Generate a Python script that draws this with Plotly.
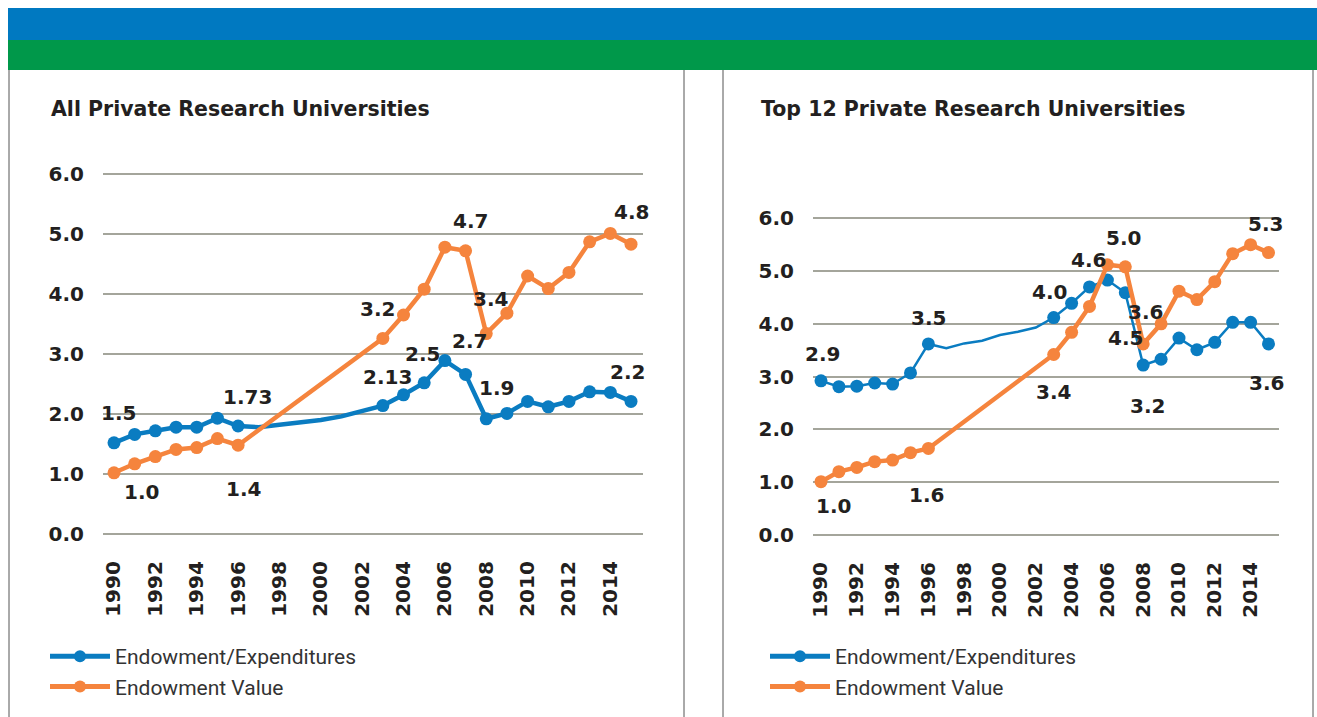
"""Endowment ratio charts: all private vs top 12 private research universities."""

import plotly.graph_objects as go

years = list(range(1990, 2016))
gap_years = [1997, 1998, 1999, 2000, 2001, 2002]

# All private research universities
all_ratio = [1.52, 1.66, 1.72, 1.78, 1.78, 1.93, 1.80,
             1.78, 1.82, 1.86, 1.90, 1.96, 2.05,
             2.14, 2.32, 2.52, 2.89, 2.66, 1.92, 2.01, 2.21, 2.12, 2.21, 2.37, 2.36, 2.21]
all_value = [1.02, 1.17, 1.29, 1.41, 1.44, 1.59, 1.48,
             None, None, None, None, None, None,
             3.26, 3.65, 4.08, 4.78, 4.72, 3.34, 3.68, 4.30, 4.09, 4.36, 4.87, 5.01, 4.83]

# Top 12 private research universities
top_ratio = [2.92, 2.81, 2.82, 2.88, 2.86, 3.07, 3.62,
             3.54, 3.63, 3.68, 3.79, 3.85, 3.93,
             4.12, 4.39, 4.70, 4.83, 4.59, 3.22, 3.33, 3.73, 3.51, 3.65, 4.03, 4.03, 3.62]
top_value = [1.01, 1.20, 1.28, 1.39, 1.42, 1.56, 1.64,
             None, None, None, None, None, None,
             3.42, 3.84, 4.33, 5.12, 5.08, 3.62, 4.00, 4.62, 4.46, 4.80, 5.33, 5.50, 5.35]

series_names = ["Endowment/Expenditures", "Endowment Value"]
panel_titles = ["All Private Research Universities", "Top 12 Private Research Universities"]
y_ticks = [0, 1, 2, 3, 4, 5, 6]
x_ticks = list(range(1990, 2015, 2))

# (text, year, series index, x offset px, y offset px)
all_labels = [
    ("1.5", 1990, 0, 4, -30), ("1.0", 1990, 1, 27, 19), ("1.73", 1996, 0, 9, -29),
    ("1.4", 1996, 1, 5, 44), ("3.2", 2003, 1, -5, -29), ("4.7", 2007, 1, 5, -30),
    ("3.4", 2008, 1, 4, -35), ("2.7", 2007, 0, 4, -33), ("2.5", 2005, 0, -2, -29),
    ("2.13", 2003, 0, 5, -29), ("1.9", 2008, 0, 10, -31), ("2.2", 2015, 0, -4, -29),
    ("4.8", 2015, 1, 0, -32),
]
top_labels = [
    ("2.9", 1990, 0, 1, -27), ("3.5", 1996, 0, 0, -26), ("4.0", 2003, 0, -4, -26),
    ("4.6", 2005, 0, -1, -27), ("5.0", 2007, 1, -2, -29), ("3.6", 2008, 1, 2, -32),
    ("4.5", 2007, 0, 0, 45), ("3.2", 2008, 0, 4, 41), ("3.6", 2015, 0, -2, 39),
    ("5.3", 2015, 1, -3, -29), ("3.4", 2003, 1, 0, 38), ("1.0", 1990, 1, 12, 24),
    ("1.6", 1996, 1, -2, 47),
]

BLUE = "#0a7cc1"
ORANGE = "#f5843d"
W, H = 1317, 717
HEAVY = dict(family="DejaVu Sans", size=20, color="#231f20", weight="bold")

fig = go.Figure()

panels = [
    dict(ratio=all_ratio, value=all_value, labels=all_labels, title=panel_titles[0],
         xa="x", ya="y", legend="legend", blue_w=4.5,
         xdom=[103, 643], xrange=[1989.468, 2015.58], ydom=[535.2, 172.8], title_x=49),
    dict(ratio=top_ratio, value=top_value, labels=top_labels, title=panel_titles[1],
         xa="x2", ya="y2", legend="legend2", blue_w=2.5,
         xdom=[813, 1279], xrange=[1989.553, 2015.587], ydom=[536.06, 217.24], title_x=759),
]

for p in panels:
    series = [p["ratio"], p["value"]]
    colors = [BLUE, ORANGE]
    widths = [p["blue_w"], 4.5]
    for s, ys in enumerate(series):
        fig.add_trace(go.Scatter(
            x=years, y=ys, mode="lines", connectgaps=True,
            line=dict(color=colors[s], width=widths[s]),
            xaxis=p["xa"], yaxis=p["ya"], showlegend=False, hoverinfo="skip",
        ))
        mx = [yr for yr, v in zip(years, ys) if v is not None and yr not in gap_years]
        my = [v for yr, v in zip(years, ys) if v is not None and yr not in gap_years]
        fig.add_trace(go.Scatter(
            x=mx, y=my, mode="markers",
            marker=dict(color=colors[s], size=13),
            xaxis=p["xa"], yaxis=p["ya"], showlegend=False,
        ))
        # legend entry only
        fig.add_trace(go.Scatter(
            x=[None], y=[None], mode="lines+markers", name=series_names[s],
            line=dict(color=colors[s], width=5), marker=dict(color=colors[s], size=12),
            xaxis=p["xa"], yaxis=p["ya"], legend=p["legend"],
        ))
    for text, yr, s, dx, dy in p["labels"]:
        fig.add_annotation(
            x=yr, y=series[s][years.index(yr)], xref=p["xa"], yref=p["ya"],
            text=text, showarrow=False, xshift=dx, yshift=-dy, font=HEAVY,
        )
    fig.add_annotation(
        x=p["title_x"] / W, y=1 - 109 / H, xref="paper", yref="paper",
        xanchor="left", yanchor="middle", text=p["title"], showarrow=False,
        font=dict(HEAVY, size=20.5),
    )

axis_common = dict(showline=False, zeroline=False, showgrid=False, automargin=False)
for i, p in enumerate(panels):
    sfx = "" if i == 0 else "2"
    fig.update_layout({
        f"xaxis{sfx}": dict(
            axis_common, domain=[p["xdom"][0] / W, p["xdom"][1] / W], range=p["xrange"],
            tickvals=x_ticks, tickangle=-90, ticks="outside", ticklen=17,
            tickcolor="rgba(0,0,0,0)", tickfont=dict(HEAVY, size=20),
            anchor=f"y{sfx}",
        ),
        f"yaxis{sfx}": dict(
            axis_common, domain=[1 - p["ydom"][0] / H, 1 - p["ydom"][1] / H],
            range=[-0.02, 6.02], tickvals=y_ticks, tickformat=".1f",
            showgrid=True, gridcolor="#a4a59b", gridwidth=1.5,
            ticks="outside", ticklen=14, tickcolor="rgba(0,0,0,0)",
            tickfont=dict(HEAVY, size=20), anchor=f"x{sfx}",
        ),
    })

legend_style = dict(
    orientation="v", yanchor="top", xanchor="left", bgcolor="rgba(0,0,0,0)",
    font=dict(family="Roboto, Arial", size=21, color="#333333"),
    itemwidth=60, tracegroupgap=0, itemclick=False,
)
fig.update_layout(
    legend=dict(legend_style, x=45 / W, y=1 - 636 / H),
    legend2=dict(legend_style, x=765 / W, y=1 - 636 / H),
)

# header bands and panel rules
fig.add_shape(type="rect", xref="paper", yref="paper", x0=8 / W, x1=1, y0=1 - 40 / H, y1=1 - 8 / H,
              fillcolor="#0079c1", line_width=0, layer="below")
fig.add_shape(type="rect", xref="paper", yref="paper", x0=8 / W, x1=1, y0=1 - 70 / H, y1=1 - 40 / H,
              fillcolor="#00984a", line_width=0, layer="below")
for xp in [9, 684, 723, 1313]:
    fig.add_shape(type="line", xref="paper", yref="paper", x0=xp / W, x1=xp / W,
                  y0=0, y1=1 - 70 / H, line=dict(color="#555555", width=1))

fig.update_layout(
    width=W, height=H, margin=dict(l=0, r=0, t=0, b=0, autoexpand=False),
    paper_bgcolor="white", plot_bgcolor="white", hovermode="closest",
)

# page body margin would otherwise shift the figure by 8px
fig.write_html(
    "out.html",
    config={"displayModeBar": False},
    post_script="document.body.style.margin='0';document.body.style.overflow='hidden';",
)
